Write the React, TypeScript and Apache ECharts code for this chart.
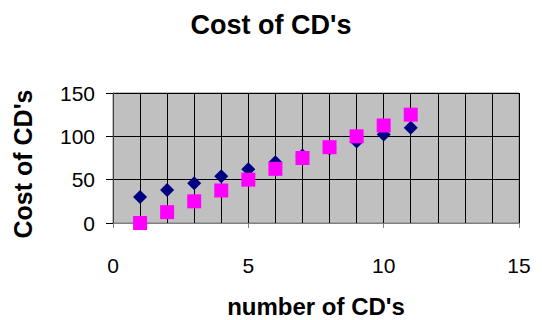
import React, { useEffect, useRef } from "react";
import * as echarts from "echarts";

const cdCounts = [1, 2, 3, 4, 5, 6, 7, 8, 9, 10, 11];
const costA = [30, 38, 46, 54, 62, 70, 78, 86, 94, 102, 110];
const costB = [0, 12.5, 25, 37.5, 50, 62.5, 75, 87.5, 100, 112.5, 125];
const titleText = "Cost of CD's";
const xName = "number of CD's";
const yName = "Cost of CD's";

export default function App() {
  const ref = useRef<HTMLDivElement>(null);
  useEffect(() => {
    document.body.style.margin = "0";
    if (!ref.current) return;
    const chart = echarts.init(ref.current, undefined, { renderer: "svg" });
    const font = "Liberation Sans, Arial, sans-serif";
    chart.setOption({
      animation: false,
      backgroundColor: "#ffffff",
      title: {
        text: titleText,
        left: "center",
        top: 6,
        textStyle: { fontFamily: font, fontSize: 27, fontWeight: "bold", color: "#000" },
      },
      grid: {
        left: 113,
        right: 23,
        top: 93,
        bottom: 97,
        show: true,
        outerBoundsMode: "none",
        containLabel: false,
        backgroundColor: "#c0c0c0",
        borderColor: "#808080",
        borderWidth: 1,
      },
      xAxis: {
        type: "value",
        min: 0,
        max: 15,
        interval: 5,
        name: xName,
        nameLocation: "middle",
        nameGap: 74,
        nameTextStyle: {
          fontFamily: font,
          fontSize: 24,
          lineHeight: 18,
          fontWeight: "bold",
          color: "#000",
        },
        axisLine: { show: true, lineStyle: { color: "#808080" } },
        axisTick: { show: true, inside: false, length: 5, lineStyle: { color: "#808080" } },
        axisLabel: { margin: 32, fontFamily: font, fontSize: 21, color: "#000" },
        splitLine: { show: true, lineStyle: { color: "#000", width: 1 } },
        minorTick: { show: false, splitNumber: 5 },
        minorSplitLine: { show: true, lineStyle: { color: "#000", width: 1 } },
      },
      yAxis: {
        type: "value",
        min: 0,
        max: 150,
        interval: 50,
        name: yName,
        nameLocation: "middle",
        nameGap: 78,
        nameRotate: 90,
        nameTextStyle: {
          fontFamily: font,
          fontSize: 25,
          fontWeight: "bold",
          color: "#000",
          padding: [0, 12, 0, 0],
        },
        axisLine: { show: true, lineStyle: { color: "#404040" } },
        axisTick: { show: true, inside: false, length: 7, lineStyle: { color: "#000" } },
        axisLabel: { margin: 18, fontFamily: font, fontSize: 21, color: "#000" },
        splitLine: { show: true, lineStyle: { color: "#000", width: 1 } },
      },
      series: [
        {
          type: "scatter",
          symbol: "diamond",
          symbolSize: 14,
          itemStyle: { color: "#000080", opacity: 1 },
          data: cdCounts.map((x, i) => [x, costA[i]]),
        },
        {
          type: "scatter",
          symbol: "rect",
          symbolSize: 14,
          itemStyle: { color: "#ff00ff", opacity: 1 },
          data: cdCounts.map((x, i) => [x, costB[i]]),
        },
      ],
    });
    return () => chart.dispose();
  }, []);
  return <div ref={ref} style={{ width: 542, height: 320 }} />;
}
